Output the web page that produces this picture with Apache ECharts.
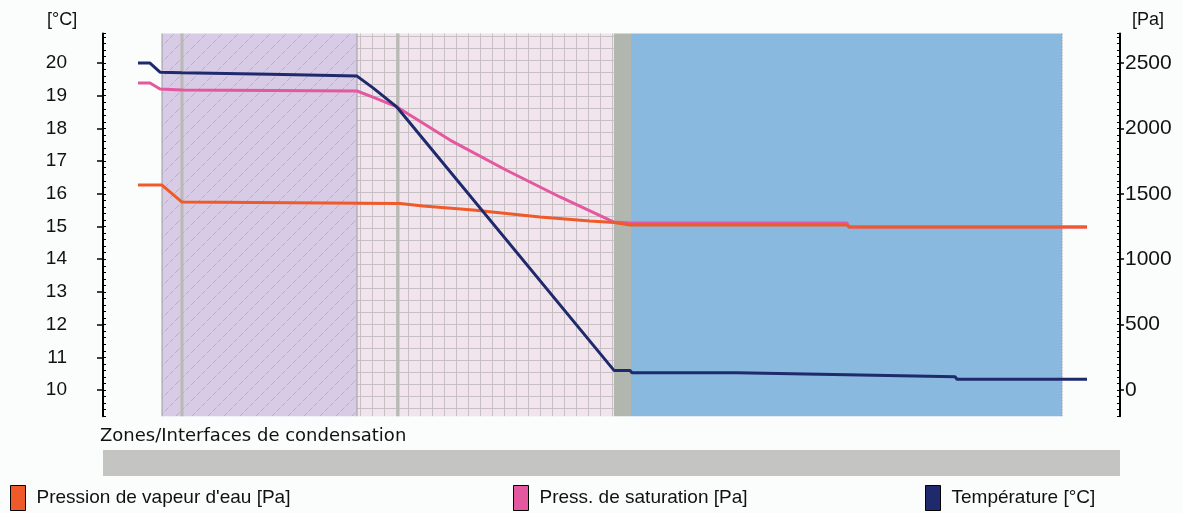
<!DOCTYPE html>
<html>
<head>
<meta charset="utf-8">
<script src="https://cdn.jsdelivr.net/npm/echarts@6/dist/echarts.min.js"></script>
<style>
  html, body { margin: 0; padding: 0; background: #fbfcfc; }
  #chart { width: 1183px; height: 513px; }
</style>
</head>
<body>
<div id="chart"></div>
<script>
// position through the wall [mm], 0 = inner face
const tempX = [-12, -6, -1, 10, 10.5, 54, 55, 97.5, 105.5, 117.5, 226, 234, 235, 287.5, 288.5, 342.5, 343.5, 396.5, 397.5, 462.5];
const tempC = [20.0, 20.0, 19.72, 19.70, 19.66, 19.66, 19.60, 19.60, 19.24, 18.65, 10.60, 10.60, 10.53, 10.53, 10.47, 10.47, 10.41, 10.41, 10.33, 10.33];

const satX = [-12, -6, -1, 10, 10.5, 97.5, 105.5, 117.5, 144, 172, 199, 226, 234, 342.5, 343.5, 462.5];
const satPa = [2347, 2347, 2301, 2294, 2286, 2286, 2240, 2164, 1911, 1682, 1476, 1284, 1277, 1277, 1246, 1246];

const vapX = [-12, 0, 10, 119, 130.5, 155.5, 189, 214, 226, 234, 342.5, 343.5, 462.5];
const vapPa = [1567, 1567, 1437, 1426, 1407, 1376, 1323, 1292, 1281, 1262, 1262, 1246, 1246];

// wall layers: start, end, material (0 hatched, 1 grid, 2 grey, 3 blue), left edge (0 thin, 1 thick, 2 none)
const layerStart = [0, 10, 97.5, 118, 226, 234.5];
const layerEnd = [10, 97.5, 118, 226, 234.5, 450];
const layerKind = [0, 0, 1, 1, 2, 3];
const layerEdge = [0, 1, 0, 1, 2, 2];

const tempTicks = [10, 11, 12, 13, 14, 15, 16, 17, 18, 19, 20];
const paTicks = [0, 500, 1000, 1500, 2000, 2500];

const NAME_VAP = "Pression de vapeur d'eau [Pa]";
const NAME_SAT = "Press. de saturation [Pa]";
const NAME_TEMP = "Température [°C]";

function makeHatch() {
  const c = document.createElement("canvas");
  c.width = 16; c.height = 16;
  const g = c.getContext("2d");
  g.fillStyle = "#d8cbe5";
  g.fillRect(0, 0, 16, 16);
  g.strokeStyle = "#b9adca";
  g.lineWidth = 1;
  g.setLineDash([5, 2]);
  g.beginPath();
  g.moveTo(0, 16); g.lineTo(16, 0);
  g.stroke();
  return c;
}

function makeGrid() {
  const c = document.createElement("canvas");
  c.width = 12; c.height = 12;
  const g = c.getContext("2d");
  g.fillStyle = "#f2e4ed";
  g.fillRect(0, 0, 12, 12);
  g.fillStyle = "#c6c0c5";
  g.fillRect(0, 0, 12, 1);
  g.fillRect(0, 0, 1, 12);
  return c;
}

const fills = [
  { type: "pattern", image: makeHatch(), repeat: "repeat" },
  { type: "pattern", image: makeGrid(), repeat: "repeat" },
  "#b1b7af",
  "#89b9de",
];

const zip = (xs, ys) => xs.map((x, i) => [x, ys[i]]);

const chart = echarts.init(document.getElementById("chart"));

const option = {
  animation: false,
  backgroundColor: "#fbfcfc",
  grid: { left: 103, right: 63, top: 33.6, bottom: 96.8 },
  xAxis: { type: "value", min: -29.5, max: 479, show: false },
  yAxis: [
    {
      type: "value", position: "left", min: 9.2, max: 20.9,
      axisLine: { show: true, onZero: false, lineStyle: { color: "#000", width: 2 } },
      axisTick: { show: true, length: 6, customValues: tempTicks, lineStyle: { color: "#000", width: 1.5 } },
      axisLabel: { customValues: tempTicks, margin: 36, color: "#111", fontSize: 19, fontFamily: "Liberation Sans" },
      splitLine: { show: false },
    },
    {
      type: "value", position: "left", min: 9.2, max: 20.9, interval: 0.2,
      axisLine: { show: false, onZero: false },
      axisTick: { show: true, inside: true, length: 3, lineStyle: { color: "#000", width: 1 } },
      axisLabel: { show: false },
      splitLine: { show: false },
    },
    {
      type: "value", position: "right", min: -200, max: 2725,
      axisLine: { show: true, onZero: false, lineStyle: { color: "#000", width: 2 } },
      axisTick: { show: true, length: 4, customValues: paTicks, lineStyle: { color: "#000", width: 1.5 } },
      axisLabel: { customValues: paTicks, margin: 5, color: "#111", fontSize: 21, fontFamily: "Liberation Sans", formatter: (v) => String(v) },
      splitLine: { show: false },
    },
    {
      type: "value", position: "right", min: -200, max: 2725, interval: 50,
      axisLine: { show: false, onZero: false },
      axisTick: { show: true, inside: true, length: 3, lineStyle: { color: "#000", width: 1 } },
      axisLabel: { show: false },
      splitLine: { show: false },
    },
  ],
  legend: [
    { data: [NAME_VAP], left: 10, top: 485 },
    { data: [NAME_SAT], left: 513, top: 485 },
    { data: [NAME_TEMP], left: 925, top: 485 },
  ].map((l) => Object.assign(l, {
    icon: "rect", itemWidth: 15, itemHeight: 25, padding: 0,
    itemStyle: { borderColor: "#000", borderWidth: 1 },
    textStyle: { fontSize: 19, fontFamily: "Liberation Sans", color: "#111", padding: [0, 0, 0, 6] },
  })),
  graphic: [
    { type: "text", left: 47, top: 11, style: { text: "[°C]", fontSize: 18, fontFamily: "Liberation Sans", fill: "#111" } },
    { type: "text", left: 1132, top: 11, style: { text: "[Pa]", fontSize: 18, fontFamily: "Liberation Sans", fill: "#111" } },
    { type: "text", left: 100, top: 427, style: { text: "Zones/Interfaces de condensation", fontSize: 18, fontFamily: "DejaVu Sans", fill: "#111" } },
    { type: "rect", left: 103, top: 450, shape: { width: 1017, height: 26 }, style: { fill: "#c4c5c2" } },
  ],
  series: [
    {
      type: "custom",
      z: 1,
      silent: true,
      renderItem: function (params, api) {
        const x0 = api.value(0), x1 = api.value(1), kind = api.value(2), edge = api.value(3);
        const cs = params.coordSys;
        const a = api.coord([x0, 15]), b = api.coord([x1, 15]);
        const children = [{
          type: "rect",
          shape: { x: a[0], y: cs.y, width: b[0] - a[0], height: cs.height },
          style: { fill: fills[kind] },
        }];
        if (edge === 0) {
          children.push({ type: "line", shape: { x1: a[0], y1: cs.y, x2: a[0], y2: cs.y + cs.height }, style: { stroke: "#9c9c9c", lineWidth: 1 } });
        } else if (edge === 1) {
          children.push({ type: "line", shape: { x1: a[0], y1: cs.y, x2: a[0], y2: cs.y + cs.height }, style: { stroke: "#b9b9b6", lineWidth: 3 } });
        }
        if (params.dataIndex === layerStart.length - 1) {
          children.push({ type: "line", shape: { x1: b[0], y1: cs.y, x2: b[0], y2: cs.y + cs.height }, style: { stroke: "#9c9c9c", lineWidth: 1, lineDash: [2, 1] } });
        }
        return { type: "group", children: children };
      },
      data: layerStart.map((s, i) => [s, layerEnd[i], layerKind[i], layerEdge[i]]),
    },
    {
      name: NAME_SAT, type: "line", yAxisIndex: 2, z: 3,
      showSymbol: false, color: "#e3589f",
      lineStyle: { width: 3, color: "#e3589f" },
      data: zip(satX, satPa),
    },
    {
      name: NAME_VAP, type: "line", yAxisIndex: 2, z: 4,
      showSymbol: false, color: "#ee5a2a",
      lineStyle: { width: 3, color: "#ee5a2a" },
      data: zip(vapX, vapPa),
    },
    {
      name: NAME_TEMP, type: "line", yAxisIndex: 0, z: 5,
      showSymbol: false, color: "#1e2a6c",
      lineStyle: { width: 3, color: "#1e2a6c" },
      data: zip(tempX, tempC),
    },
  ],
};

chart.setOption(option);
</script>
</body>
</html>
